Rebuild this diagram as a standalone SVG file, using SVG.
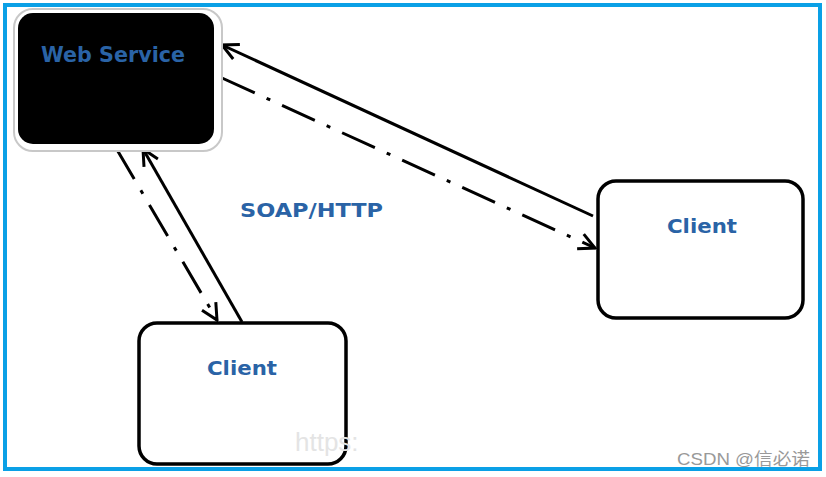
<svg xmlns="http://www.w3.org/2000/svg" width="826" height="477" viewBox="0 0 826 477">
<defs>
<style>
.lbl{font-family:"DejaVu Sans","Liberation Sans",Arial,sans-serif;font-weight:bold;fill:#2a63a6;}
.conn{stroke:#000;stroke-width:3;fill:none;}
.dd{stroke-dasharray:36 13 4 13;}
.box{fill:#fff;stroke:#000;stroke-width:3.5;}
</style>
<marker id="ah" viewBox="0 0 22 22" refX="20" refY="11" markerWidth="22" markerHeight="22" markerUnits="userSpaceOnUse" orient="auto">
<path d="M4,3 L20,11 L4,19" fill="none" stroke="#000" stroke-width="3"/>
</marker>
</defs>
<rect x="0" y="0" width="826" height="477" fill="#fff"/>
<rect x="5" y="5" width="815" height="464" fill="none" stroke="#0aa0e6" stroke-width="4"/>
<g id="connectors">
<line class="conn" x1="593" y1="216" x2="222" y2="45" marker-end="url(#ah)"/>
<line class="conn dd" x1="222" y1="78" x2="595" y2="248" marker-end="url(#ah)"/>
<line class="conn" x1="242" y1="322" x2="143" y2="149" marker-end="url(#ah)"/>
<line class="conn dd" x1="116" y1="148" x2="217" y2="320" marker-end="url(#ah)"/>
</g>
<g id="web-service">
<rect x="14" y="9" width="208" height="142" rx="19" fill="#fff" stroke="#c8c8c8" stroke-width="2"/>
<rect x="18" y="13" width="196" height="131" rx="15" fill="#000"/>
<text class="lbl" x="41" y="62" font-size="21" textLength="144" lengthAdjust="spacingAndGlyphs">Web Service</text>
</g>
<g id="client-right">
<rect class="box" x="598" y="181" width="205" height="137" rx="18"/>
<text class="lbl" x="667" y="233" font-size="20" textLength="70" lengthAdjust="spacingAndGlyphs">Client</text>
</g>
<g id="client-bottom">
<rect class="box" x="139" y="323" width="207" height="141" rx="18"/>
<text class="lbl" x="207" y="375" font-size="20" textLength="70" lengthAdjust="spacingAndGlyphs">Client</text>
</g>
<text class="lbl" x="240" y="217" font-size="19" textLength="143" lengthAdjust="spacingAndGlyphs">SOAP/HTTP</text>
<text x="295" y="451" font-family="Liberation Sans,Arial,sans-serif" font-size="26" fill="#e4e4e4">https:</text>
<text x="677" y="465" font-family="Liberation Sans,'Noto Sans CJK SC',sans-serif" font-size="17" fill="#999" textLength="133" lengthAdjust="spacingAndGlyphs">CSDN @信必诺</text>
</svg>
